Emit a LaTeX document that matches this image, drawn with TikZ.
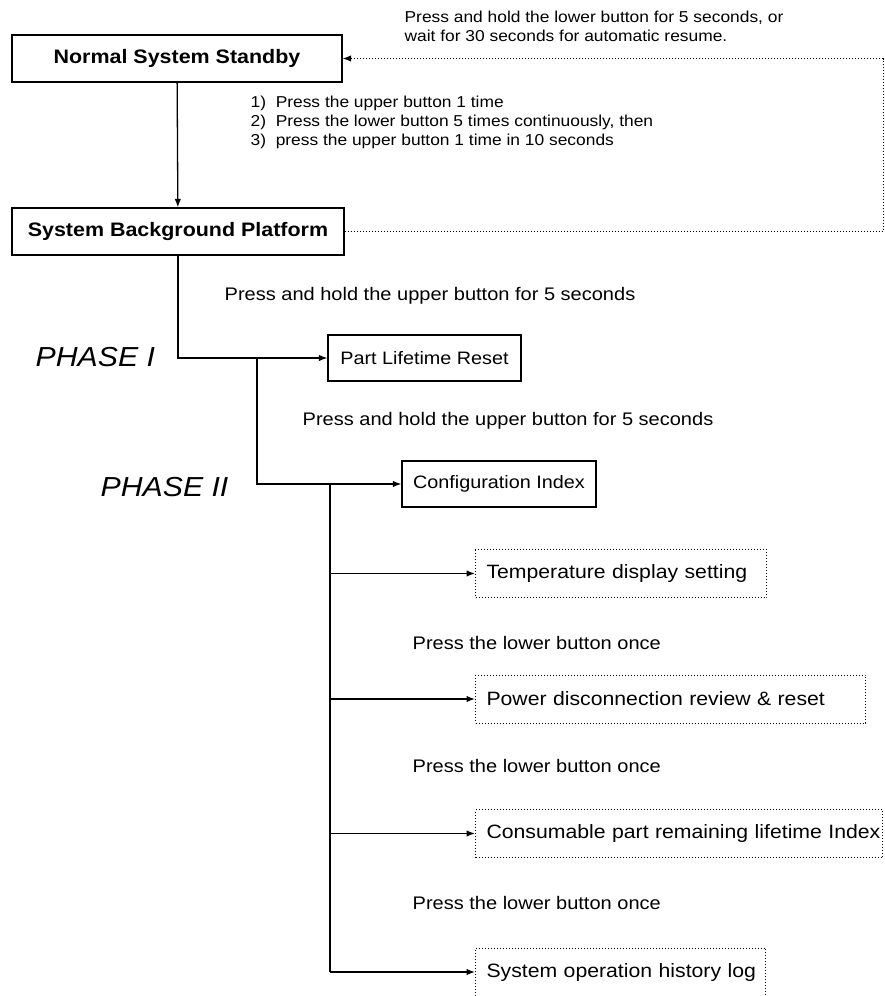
\documentclass[tikz,border=0pt]{standalone}
\usepackage{fontspec}
\setmainfont[FakeStretch=1.1]{Liberation Sans}
\usetikzlibrary{arrows.meta}

\begin{document}
\begin{tikzpicture}[x=1pt, y=-1pt, line width=1.3pt,
  solidbox/.style={draw, line width=1.3pt, inner sep=0pt, font=\fontsize{18}{21}\selectfont},
  dotbox/.style={draw, dotted, line width=1pt, anchor=west, inner xsep=11pt, inner ysep=0pt, align=left, minimum height=48, font=\fontsize{19.3}{22}\selectfont},
  note/.style={anchor=west, inner sep=0pt, align=left, font=\fontsize{18.2}{21.5}\selectfont},
  step note/.style={note, font=\fontsize{15.8}{19}\selectfont},
  phase/.style={anchor=west, inner sep=0pt, font=\itshape\fontsize{27.5}{30}\selectfont},
  arr/.style={-{Latex[length=8.5pt, width=6.5pt]}}]
  \useasboundingbox (0,0) rectangle (885,996);

  % main boxes
  \node[solidbox, minimum width=330, minimum height=47, font=\bfseries\fontsize{19.5}{22}\selectfont] (standby) at (177,58.5) {Normal System Standby};
  \node[solidbox, minimum width=332, minimum height=47, font=\bfseries\fontsize{19.5}{22}\selectfont] (platform) at (178,231.5) {System Background Platform};
  \node[solidbox, minimum width=193, minimum height=46] (lifetime) at (424.5,358) {Part Lifetime Reset};
  \node[solidbox, minimum width=194, minimum height=46] (config) at (499,484) {Configuration Index};

  % sub items (dotted)
  \node[dotbox, text width=269] (temp) at (475,573.5) {\mbox{Temperature display setting}};
  \node[dotbox, text width=368] (power) at (475,699) {\mbox{Power disconnection review \& reset}};
  \node[dotbox, text width=385] (consum) at (475,833.5) {\mbox{Consumable part remaining lifetime Index}};
  \node[dotbox, text width=268] (histlog) at (475,972) {\mbox{System operation history log}};

  % texts
  \node[step note] (resume) at (404,26) {Press and hold the lower button for 5 seconds, or\\wait for 30 seconds for automatic resume.};
  \node[step note] (steps) at (250,122) {1)\ \ Press the upper button 1 time\\2)\ \ Press the lower button 5 times continuously, then\\3)\ \ press the upper button 1 time in 10 seconds};
  \node[note] (hold1) at (224,296) {Press and hold the upper button for 5 seconds};
  \node[note] (hold2) at (302,421) {Press and hold the upper button for 5 seconds};
  \node[note] (once1) at (412,643) {Press the lower button once};
  \node[note] (once2) at (412,766) {Press the lower button once};
  \node[note] (once3) at (412,903) {Press the lower button once};
  \node[phase] (ph1) at (35,357) {PHASE I};
  \node[phase] (ph2) at (100,487) {PHASE II};

  % connectors
  \draw[arr] (standby) -- (platform);
  \draw[arr, dotted, line width=1pt] (platform.east) -- (883,231.5) |- (standby.east);
  \draw[arr] (platform.south) |- (lifetime.west);
  \draw[arr] (257,358) |- (config.west);
  \draw (330,484) -- (330,972);
  \draw[arr] (330,573.5) -- (temp.west);
  \draw[arr] (330,699) -- (power.west);
  \draw[arr] (330,833.5) -- (consum.west);
  \draw[arr] (330,972) -- (histlog.west);
\end{tikzpicture}
\end{document}
